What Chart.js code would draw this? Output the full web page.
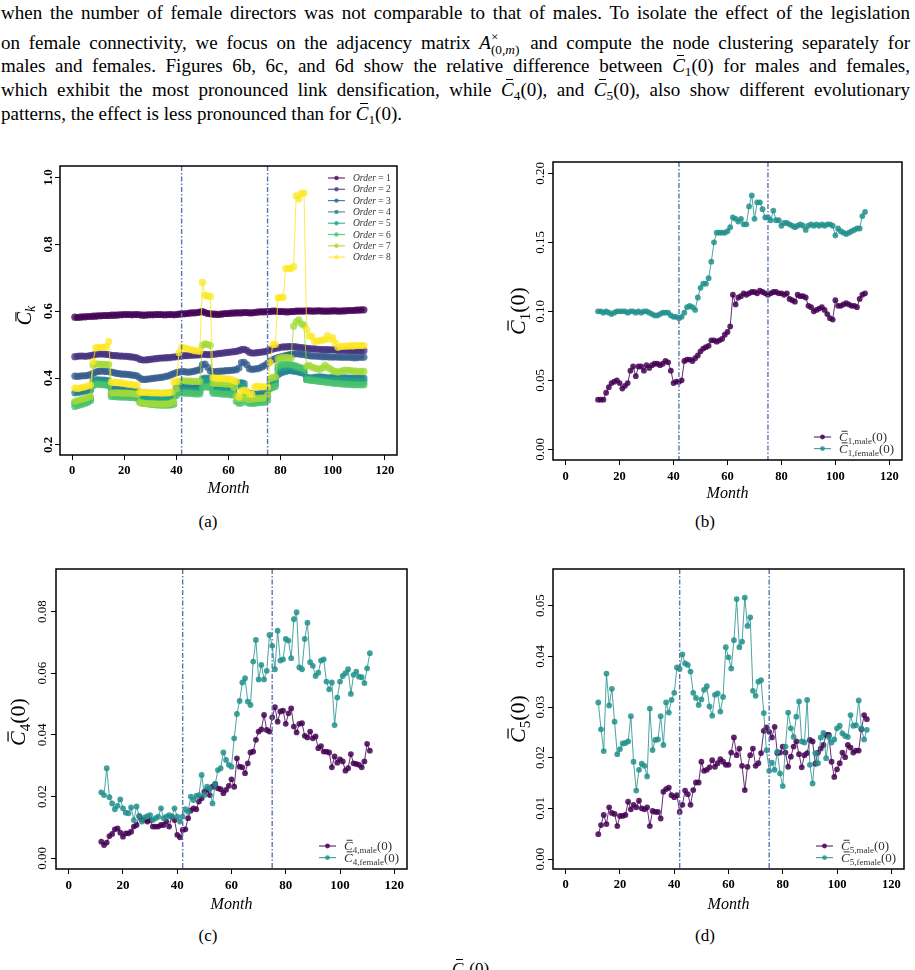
<!DOCTYPE html>
<html lang="en">
<head>
<meta charset="UTF-8">
<title>Node clustering by order and gender</title>
<script src="https://cdn.jsdelivr.net/npm/chart.js"></script>
<style>
  body { margin: 0; width: 915px; height: 970px; position: relative; background: #fff; overflow: hidden;
         font-family: 'Liberation Serif', serif; color: #000; }
  .ln { position: absolute; left: 1px; width: 909px; font-size: 19px; line-height: 20px;
        text-align: justify; text-align-last: justify; }
  .ln.last { text-align-last: left; }
  .cb { font-style: italic; position: relative; }
  .cb::before { content: ''; position: absolute; left: 0.25em; right: 0.02em; top: 0.02em; border-top: 1px solid #000; }
  sub { font-size: 0.7em; vertical-align: -0.3em; line-height: 0; }
  .ss { display: inline-block; vertical-align: -5px; font-size: 0.7em; line-height: 1; margin-right: 2px; }
  .ss span { display: block; }
  .panel { position: absolute; }
  .cap { position: absolute; font-size: 17px; transform: translate(-50%, -50%); }
</style>
</head>
<body>
<div class="ln" style="top:3px">when the number of female directors was not comparable to that of males. To isolate the effect of the legislation</div>
<div class="ln" style="top:30px">on female connectivity, we focus on the adjacency matrix <i>A</i><span class="ss"><span>×</span><span>(0,<i>m</i>)</span></span> and compute the node clustering separately for</div>
<div class="ln" style="top:56px">males and females. Figures 6b, 6c, and 6d show the relative difference between <span class="cb">C</span><sub>1</sub>(0) for males and females,</div>
<div class="ln" style="top:80px">which exhibit the most pronounced link densification, while <span class="cb">C</span><sub>4</sub>(0), and <span class="cb">C</span><sub>5</sub>(0), also show different evolutionary</div>
<div class="ln last" style="top:104px">patterns, the effect is less pronounced than for <span class="cb">C</span><sub>1</sub>(0).</div>

<div class="cap" style="left:208px; top:522px">(a)</div>
<div class="cap" style="left:705px; top:522px">(b)</div>
<div class="cap" style="left:208px; top:936px">(c)</div>
<div class="cap" style="left:705px; top:936px">(d)</div>
<div style="position:absolute; left:452px; top:959px; font-size:17px; line-height:20px"><span class="cb">C</span><sub>1</sub>(0)</div>

<script>
// ---- data ----
const xTicks = [0, 20, 40, 60, 80, 100, 120];
const eventMonths = [42, 75];

const monthsA = [1,2,3,4,5,6,7,8,9,10,11,12,13,14,15,16,17,18,19,20,21,22,23,24,25,26,27,28,29,30,
  31,32,33,34,35,36,37,38,39,40,41,42,43,44,45,46,47,48,49,50,51,52,53,54,55,56,57,58,59,60,
  61,62,63,64,65,66,67,68,69,70,71,72,73,74,75,76,77,78,79,80,81,82,83,84,85,86,87,88,89,90,
  91,92,93,94,95,96,97,98,99,100,101,102,103,104,105,106,107,108,109,110,111,112];
const monthsB = [12,13,14,15,16,17,18,19,20,21,22,23,24,25,26,27,28,29,30,31,32,33,34,35,36,37,38,39,40,41,
  42,43,44,45,46,47,48,49,50,51,52,53,54,55,56,57,58,59,60,61,62,63,64,65,66,67,68,69,70,71,
  72,73,74,75,76,77,78,79,80,81,82,83,84,85,86,87,88,89,90,91,92,93,94,95,96,97,98,99,100,101,
  102,103,104,105,106,107,108,109,110,111];

// (a) mean clustering per order
const order1 = [0.582,0.581,0.582,0.583,0.583,0.584,0.584,0.585,0.585,0.586,
  0.586,0.587,0.587,0.587,0.588,0.588,0.588,0.589,0.589,0.590,
  0.590,0.590,0.589,0.590,0.590,0.589,0.588,0.588,0.589,0.589,
  0.589,0.590,0.590,0.590,0.589,0.589,0.590,0.590,0.589,0.590,
  0.591,0.592,0.592,0.593,0.594,0.595,0.595,0.596,0.597,0.599,
  0.596,0.593,0.592,0.591,0.591,0.590,0.591,0.592,0.593,0.593,
  0.594,0.594,0.595,0.595,0.595,0.596,0.596,0.595,0.595,0.596,
  0.597,0.598,0.598,0.598,0.599,0.599,0.600,0.600,0.599,0.599,
  0.599,0.598,0.598,0.599,0.599,0.600,0.600,0.600,0.600,0.601,
  0.601,0.600,0.600,0.601,0.601,0.600,0.600,0.600,0.600,0.601,
  0.601,0.600,0.600,0.601,0.601,0.602,0.602,0.602,0.603,0.603,0.604,0.604];
const order2 = [0.464,0.465,0.466,0.466,0.465,0.466,0.467,0.469,0.471,0.472,
  0.472,0.472,0.471,0.470,0.468,0.467,0.467,0.466,0.466,0.465,
  0.465,0.464,0.463,0.462,0.460,0.456,0.454,0.454,0.455,0.456,
  0.457,0.458,0.459,0.460,0.460,0.461,0.461,0.462,0.463,0.464,
  0.465,0.466,0.467,0.467,0.468,0.468,0.469,0.469,0.470,0.471,
  0.471,0.470,0.470,0.471,0.472,0.473,0.474,0.475,0.476,0.477,
  0.478,0.479,0.480,0.482,0.485,0.486,0.483,0.477,0.475,0.475,
  0.476,0.477,0.478,0.479,0.481,0.484,0.487,0.489,0.490,0.492,
  0.493,0.493,0.494,0.494,0.494,0.493,0.492,0.491,0.490,0.489,
  0.488,0.487,0.487,0.486,0.486,0.485,0.485,0.485,0.484,0.484,
  0.484,0.483,0.483,0.483,0.483,0.482,0.482,0.482,0.482,0.482,0.482,0.482];
const order3 = [0.406,0.405,0.406,0.407,0.407,0.408,0.410,0.414,0.418,0.420,
  0.421,0.421,0.420,0.419,0.418,0.416,0.414,0.413,0.412,0.412,
  0.411,0.410,0.409,0.408,0.406,0.400,0.396,0.396,0.397,0.398,
  0.399,0.400,0.401,0.402,0.403,0.405,0.407,0.410,0.413,0.416,
  0.418,0.419,0.419,0.418,0.418,0.419,0.421,0.423,0.425,0.440,
  0.442,0.432,0.421,0.419,0.419,0.420,0.421,0.421,0.422,0.422,
  0.423,0.424,0.425,0.430,0.446,0.447,0.440,0.428,0.426,0.427,
  0.428,0.430,0.434,0.438,0.444,0.450,0.455,0.458,0.461,0.463,
  0.465,0.467,0.469,0.471,0.472,0.473,0.472,0.471,0.470,0.468,
  0.467,0.466,0.466,0.465,0.465,0.464,0.464,0.464,0.463,0.463,
  0.463,0.463,0.462,0.462,0.462,0.462,0.462,0.461,0.461,0.462,0.462,0.462];
const order4 = [0.356,0.357,0.358,0.360,0.361,0.362,0.364,0.392,0.395,0.395,
  0.394,0.394,0.393,0.392,0.368,0.367,0.366,0.366,0.365,0.365,
  0.365,0.364,0.364,0.363,0.362,0.356,0.355,0.355,0.354,0.354,
  0.354,0.353,0.353,0.353,0.353,0.354,0.354,0.355,0.358,0.372,
  0.378,0.378,0.377,0.377,0.376,0.376,0.375,0.375,0.375,0.398,
  0.400,0.399,0.398,0.372,0.372,0.371,0.371,0.370,0.370,0.369,
  0.368,0.368,0.384,0.386,0.386,0.384,0.356,0.354,0.353,0.352,
  0.352,0.353,0.354,0.356,0.362,0.388,0.392,0.394,0.410,0.415,
  0.418,0.420,0.422,0.422,0.421,0.420,0.418,0.416,0.414,0.402,
  0.401,0.401,0.402,0.403,0.404,0.403,0.402,0.401,0.401,0.402,
  0.401,0.400,0.400,0.401,0.401,0.400,0.400,0.400,0.401,0.401,0.400,0.400];
const order5 = [0.325,0.327,0.329,0.331,0.333,0.335,0.338,0.383,0.387,0.387,
  0.386,0.386,0.385,0.384,0.352,0.352,0.351,0.351,0.350,0.350,
  0.350,0.349,0.349,0.348,0.347,0.344,0.343,0.343,0.342,0.342,
  0.342,0.341,0.341,0.341,0.341,0.342,0.342,0.343,0.345,0.358,
  0.363,0.363,0.362,0.362,0.361,0.361,0.360,0.360,0.360,0.388,
  0.392,0.390,0.389,0.362,0.361,0.361,0.360,0.360,0.359,0.358,
  0.357,0.357,0.374,0.376,0.376,0.374,0.338,0.336,0.335,0.334,
  0.334,0.335,0.336,0.338,0.345,0.378,0.382,0.384,0.425,0.430,
  0.432,0.434,0.435,0.434,0.432,0.430,0.428,0.425,0.422,0.396,
  0.397,0.398,0.398,0.397,0.396,0.395,0.395,0.394,0.394,0.393,
  0.393,0.393,0.392,0.392,0.392,0.391,0.391,0.391,0.390,0.390,0.390,0.390];
const order6 = [0.315,0.318,0.320,0.322,0.325,0.328,0.332,0.377,0.381,0.381,
  0.380,0.380,0.379,0.378,0.345,0.345,0.344,0.344,0.343,0.343,
  0.343,0.342,0.342,0.341,0.340,0.327,0.325,0.324,0.323,0.322,
  0.321,0.320,0.320,0.319,0.319,0.319,0.319,0.320,0.322,0.348,
  0.356,0.356,0.355,0.355,0.354,0.354,0.353,0.353,0.353,0.372,
  0.374,0.373,0.372,0.355,0.354,0.354,0.353,0.352,0.352,0.351,
  0.350,0.350,0.330,0.325,0.326,0.345,0.328,0.325,0.324,0.325,
  0.326,0.327,0.327,0.328,0.333,0.368,0.372,0.375,0.436,0.440,
  0.441,0.442,0.442,0.440,0.438,0.436,0.433,0.430,0.428,0.395,
  0.394,0.393,0.392,0.391,0.390,0.389,0.388,0.387,0.386,0.385,
  0.384,0.384,0.383,0.382,0.382,0.381,0.381,0.380,0.380,0.380,0.380,0.380];
const order7 = [0.330,0.333,0.335,0.337,0.340,0.342,0.345,0.438,0.442,0.442,
  0.441,0.441,0.440,0.440,0.355,0.356,0.356,0.356,0.355,0.355,
  0.355,0.354,0.354,0.353,0.352,0.327,0.325,0.324,0.324,0.323,
  0.323,0.323,0.322,0.322,0.322,0.322,0.323,0.325,0.330,0.368,
  0.388,0.392,0.392,0.391,0.391,0.390,0.390,0.390,0.390,0.498,
  0.502,0.500,0.498,0.385,0.384,0.384,0.383,0.383,0.382,0.382,
  0.381,0.372,0.345,0.338,0.340,0.345,0.338,0.336,0.337,0.338,
  0.339,0.340,0.340,0.341,0.350,0.398,0.402,0.404,0.458,0.460,
  0.462,0.462,0.461,0.460,0.555,0.568,0.574,0.562,0.558,0.435,
  0.438,0.433,0.430,0.428,0.426,0.430,0.438,0.432,0.428,0.422,
  0.420,0.418,0.420,0.422,0.424,0.423,0.422,0.421,0.421,0.420,0.420,0.420];
const order8 = [0.370,0.369,0.370,0.372,0.374,0.376,0.379,0.449,0.490,0.492,
  0.492,0.492,0.493,0.509,0.388,0.388,0.387,0.386,0.385,0.384,
  0.382,0.381,0.380,0.379,0.378,0.358,0.357,0.357,0.357,0.356,
  0.356,0.356,0.356,0.355,0.355,0.356,0.356,0.357,0.388,0.390,
  0.476,0.492,0.490,0.488,0.486,0.484,0.482,0.481,0.480,0.686,
  0.647,0.645,0.644,0.401,0.400,0.399,0.399,0.398,0.398,0.397,
  0.396,0.392,0.390,0.344,0.362,0.364,0.362,0.352,0.351,0.374,
  0.375,0.375,0.374,0.374,0.373,0.446,0.500,0.501,0.640,0.641,
  0.641,0.727,0.727,0.728,0.733,0.945,0.935,0.952,0.953,0.545,
  0.526,0.524,0.510,0.510,0.512,0.513,0.515,0.527,0.516,0.521,
  0.505,0.492,0.494,0.495,0.495,0.496,0.496,0.496,0.497,0.497,0.497,0.497];
const orderSeries = [order1, order2, order3, order4, order5, order6, order7, order8];
const orderNames = ['1', '2', '3', '4', '5', '6', '7', '8'];

// (b) C1(0)
const c1Male = [0.036,0.036,0.036,0.041,0.045,0.048,0.049,0.050,0.048,0.044,
  0.046,0.048,0.057,0.060,0.053,0.060,0.060,0.057,0.061,0.059,
  0.061,0.062,0.062,0.061,0.062,0.064,0.063,0.057,0.048,0.049,
  0.049,0.050,0.064,0.065,0.065,0.064,0.066,0.068,0.071,0.073,
  0.074,0.075,0.079,0.079,0.078,0.079,0.080,0.083,0.085,0.089,
  0.112,0.105,0.110,0.111,0.113,0.112,0.113,0.114,0.114,0.113,
  0.115,0.114,0.113,0.112,0.113,0.114,0.114,0.113,0.113,0.112,
  0.113,0.109,0.108,0.107,0.112,0.111,0.111,0.110,0.104,0.103,
  0.100,0.101,0.102,0.103,0.101,0.098,0.095,0.094,0.108,0.104,
  0.104,0.105,0.106,0.105,0.104,0.104,0.103,0.109,0.112,0.113];
const c1Female = [0.100,0.100,0.099,0.100,0.099,0.098,0.099,0.100,0.100,0.100,
  0.100,0.099,0.100,0.100,0.099,0.100,0.099,0.100,0.100,0.099,
  0.098,0.097,0.097,0.098,0.099,0.099,0.099,0.097,0.096,0.096,
  0.095,0.096,0.099,0.103,0.104,0.103,0.101,0.110,0.117,0.120,
  0.120,0.124,0.136,0.150,0.157,0.157,0.157,0.157,0.158,0.161,
  0.168,0.167,0.165,0.167,0.163,0.163,0.176,0.184,0.167,0.179,
  0.179,0.174,0.168,0.168,0.166,0.173,0.166,0.166,0.162,0.164,
  0.164,0.163,0.162,0.161,0.162,0.163,0.162,0.159,0.162,0.163,
  0.162,0.163,0.162,0.163,0.162,0.163,0.163,0.162,0.155,0.160,
  0.158,0.157,0.156,0.157,0.158,0.159,0.160,0.160,0.169,0.172];

// (c) C4(0)
const c4Male = [0.0054,0.0043,0.0051,0.0072,0.0079,0.0094,0.0097,0.0083,0.0070,0.0081,
  0.0081,0.0086,0.0103,0.0108,0.0137,0.0126,0.0124,0.0119,0.0124,0.0103,
  0.0103,0.0103,0.0108,0.0108,0.0119,0.0103,0.0135,0.0124,0.0076,0.0068,
  0.0092,0.0094,0.0130,0.0155,0.0162,0.0159,0.0184,0.0195,0.0216,0.0222,
  0.0205,0.0232,0.0241,0.0227,0.0224,0.0211,0.0222,0.0235,0.0256,0.0232,
  0.0324,0.0297,0.0295,0.0276,0.0308,0.0343,0.0346,0.0384,0.0411,0.0418,
  0.0465,0.0416,0.0411,0.0457,0.0490,0.0443,0.0476,0.0479,0.0436,0.0470,
  0.0486,0.0427,0.0408,0.0436,0.0438,0.0397,0.0392,0.0411,0.0389,0.0395,
  0.0357,0.0364,0.0346,0.0346,0.0343,0.0295,0.0330,0.0310,0.0321,0.0314,
  0.0284,0.0292,0.0338,0.0308,0.0306,0.0303,0.0295,0.0314,0.0371,0.0349];
const c4Female = [0.0214,0.0205,0.0292,0.0198,0.0178,0.0159,0.0170,0.0191,0.0162,0.0148,
  0.0146,0.0165,0.0124,0.0168,0.0137,0.0119,0.0133,0.0137,0.0140,0.0124,
  0.0130,0.0135,0.0162,0.0130,0.0135,0.0140,0.0135,0.0162,0.0135,0.0119,
  0.0135,0.0159,0.0151,0.0200,0.0189,0.0202,0.0205,0.0270,0.0205,0.0232,
  0.0227,0.0178,0.0241,0.0286,0.0292,0.0343,0.0319,0.0303,0.0297,0.0389,
  0.0468,0.0510,0.0570,0.0584,0.0508,0.0497,0.0638,0.0708,0.0580,0.0627,
  0.0580,0.0608,0.0724,0.0689,0.0613,0.0738,0.0641,0.0645,0.0711,0.0706,
  0.0649,0.0775,0.0798,0.0619,0.0613,0.0711,0.0764,0.0636,0.0624,0.0591,
  0.0602,0.0641,0.0645,0.0573,0.0548,0.0570,0.0432,0.0521,0.0573,0.0591,
  0.0600,0.0613,0.0533,0.0595,0.0605,0.0589,0.0587,0.0568,0.0616,0.0665];

// (d) C5(0)
const c5Male = [0.0049,0.0067,0.0087,0.0069,0.0102,0.0091,0.0089,0.0065,0.0085,0.0085,
  0.0087,0.0113,0.0098,0.0107,0.0102,0.0115,0.0100,0.0098,0.0102,0.0065,
  0.0095,0.0093,0.0093,0.0080,0.0133,0.0138,0.0141,0.0126,0.0122,0.0126,
  0.0093,0.0107,0.0135,0.0128,0.0107,0.0136,0.0151,0.0151,0.0192,0.0174,
  0.0176,0.0181,0.0195,0.0182,0.0189,0.0197,0.0192,0.0186,0.0186,0.0210,
  0.0240,0.0205,0.0218,0.0184,0.0136,0.0182,0.0205,0.0218,0.0184,0.0189,
  0.0209,0.0253,0.0260,0.0251,0.0240,0.0261,0.0209,0.0210,0.0222,0.0210,
  0.0182,0.0202,0.0222,0.0232,0.0207,0.0181,0.0205,0.0209,0.0235,0.0232,
  0.0188,0.0210,0.0218,0.0225,0.0245,0.0245,0.0192,0.0162,0.0177,0.0189,
  0.0210,0.0201,0.0225,0.0220,0.0210,0.0214,0.0214,0.0256,0.0284,0.0276];
const c5Female = [0.0309,0.0256,0.0213,0.0366,0.0303,0.0336,0.0271,0.0207,0.0217,0.0228,
  0.0229,0.0232,0.0282,0.0192,0.0135,0.0176,0.0188,0.0184,0.0163,0.0297,
  0.0215,0.0235,0.0236,0.0282,0.0225,0.0309,0.0289,0.0314,0.0328,0.0378,
  0.0375,0.0404,0.0386,0.0383,0.0370,0.0328,0.0318,0.0304,0.0315,0.0334,
  0.0341,0.0301,0.0283,0.0324,0.0327,0.0291,0.0320,0.0418,0.0398,0.0376,
  0.0432,0.0513,0.0418,0.0429,0.0516,0.0460,0.0477,0.0332,0.0322,0.0350,
  0.0353,0.0288,0.0215,0.0174,0.0190,0.0176,0.0212,0.0169,0.0144,0.0222,
  0.0289,0.0258,0.0241,0.0281,0.0311,0.0232,0.0230,0.0314,0.0186,0.0149,
  0.0209,0.0189,0.0240,0.0249,0.0199,0.0241,0.0230,0.0236,0.0258,0.0263,
  0.0248,0.0243,0.0241,0.0284,0.0263,0.0264,0.0313,0.0258,0.0236,0.0255];

const yTicksA = [0.2, 0.4, 0.6, 0.8, 1.0];
const yTicksB = [0, 0.05, 0.10, 0.15, 0.20];
const yTicksC = [0, 0.02, 0.04, 0.06, 0.08];
const yTicksD = [0, 0.01, 0.02, 0.03, 0.04, 0.05];

// ---- styling ----
const viridis = ['#440154', '#46327e', '#365c8d', '#277f8e', '#1fa187', '#4ac16d', '#a0da39', '#fde725'];
const maleColor = '#440154';
const femaleColor = '#21918c';
const serif = '"Liberation Serif", serif';

function pts(months, vals) {
  return months.map((m, i) => ({ x: m, y: vals[i] }));
}

// label pieces: [text, size, italic, raise, bar]
function cLabel(sub, size, subSize) {
  return [['C', size, true, 0, true], [sub, subSize, false, -size * 0.22], ['(0)', size, false, 0]];
}

function measure(ctx, runs) {
  let w = 0;
  runs.forEach(r => {
    ctx.font = (r[2] ? 'italic ' : '') + r[1] + 'px ' + serif;
    r.w = ctx.measureText(r[0]).width;
    w += r.w;
  });
  return w;
}

function drawRuns(ctx, runs, x, yMid) {
  const base = yMid + runs[0][1] * 0.32;
  let cx = x;
  runs.forEach(r => {
    ctx.font = (r[2] ? 'italic ' : '') + r[1] + 'px ' + serif;
    ctx.fillText(r[0], cx, base - (r[3] || 0));
    if (r[4]) {
      const by = base - r[1] * 0.8;
      ctx.fillRect(cx + r.w * 0.3, by, r.w * 0.68, Math.max(1, r[1] * 0.055));
    }
    cx += r.w;
  });
}

const decor = {
  id: 'decor',
  afterDatasetsDraw(chart) {
    const { ctx, chartArea: a, scales: { x } } = chart;
    ctx.save();
    ctx.strokeStyle = '#5877b0';
    ctx.lineWidth = 1.4;
    ctx.setLineDash([5, 2, 1.5, 2]);
    eventMonths.forEach(m => {
      const px = x.getPixelForValue(m);
      ctx.beginPath();
      ctx.moveTo(px, a.top);
      ctx.lineTo(px, a.bottom);
      ctx.stroke();
    });
    ctx.setLineDash([]);
    ctx.strokeStyle = '#000';
    ctx.lineWidth = 1.5;
    ctx.strokeRect(a.left, a.top, a.right - a.left, a.bottom - a.top);
    ctx.restore();
  },
  afterDraw(chart, args, o) {
    const { ctx, chartArea: a } = chart;
    ctx.save();
    ctx.fillStyle = '#000';
    ctx.textBaseline = 'alphabetic';
    ctx.textAlign = 'left';

    // x title
    const xt = [['Month', 16, true, 0]];
    const xw = measure(ctx, xt);
    drawRuns(ctx, xt, (a.left + a.right) / 2 - xw / 2, a.bottom + o.xTitleDy);

    // y title, rotated
    const yt = o.yTitle;
    const yw = measure(ctx, yt);
    ctx.save();
    ctx.translate(a.left + o.yTitleDx, (a.top + a.bottom) / 2 + o.yTitleDy);
    ctx.rotate(-Math.PI / 2);
    drawRuns(ctx, yt, -yw / 2, 0);
    ctx.restore();

    // legend
    const lg = o.legend;
    chart.data.datasets.forEach((ds, i) => {
      const y = (lg.fromBottom ? a.bottom : a.top) + lg.y0 + i * lg.dy;
      const x0 = a.right + lg.x0, x1 = a.right + lg.x1;
      ctx.strokeStyle = ds.borderColor;
      ctx.lineWidth = 1.2;
      ctx.beginPath();
      ctx.moveTo(x0, y);
      ctx.lineTo(x1, y);
      ctx.stroke();
      ctx.fillStyle = ds.backgroundColor;
      ctx.beginPath();
      ctx.arc((x0 + x1) / 2, y, lg.r, 0, Math.PI * 2);
      ctx.fill();
      ctx.fillStyle = '#333';
      const runs = ds.mathLabel;
      measure(ctx, runs);
      drawRuns(ctx, runs, a.right + lg.tx, y);
    });
    ctx.restore();
  }
};

function buildPanel(p) {
  const [L, T, R, B] = p.area;
  const padT = 12, padR = 14, yW = 60, xH = 50;
  const wrap = document.createElement('div');
  wrap.className = 'panel';
  wrap.style.left = (L - yW) + 'px';
  wrap.style.top = (T - padT) + 'px';
  wrap.style.width = (R - L + yW + padR) + 'px';
  wrap.style.height = (B - T + padT + xH) + 'px';
  const cv = document.createElement('canvas');
  wrap.appendChild(cv);
  document.body.appendChild(wrap);

  new Chart(cv, {
    type: 'line',
    data: { datasets: p.datasets },
    options: {
      responsive: true,
      maintainAspectRatio: false,
      animation: false,
      events: [],
      layout: { padding: { top: padT, right: padR, left: 0, bottom: 0 } },
      plugins: { legend: { display: false }, tooltip: { enabled: false }, decor: p.decor },
      scales: {
        x: {
          type: 'linear', min: -4.7, max: 124.7,
          afterBuildTicks: ax => { ax.ticks = xTicks.map(v => ({ value: v })); },
          afterFit: ax => { ax.height = xH; },
          border: { display: false },
          grid: { display: true, drawOnChartArea: false, drawTicks: true, tickLength: 5, color: '#000', lineWidth: 1 },
          ticks: { color: '#000', padding: p.xPad, maxRotation: 0, autoSkip: false,
                   font: { family: serif, weight: 'bold', size: p.xFont } }
        },
        y: {
          type: 'linear', min: p.yMin, max: p.yMax,
          afterBuildTicks: ax => { ax.ticks = p.yTicks.map(v => ({ value: v })); },
          afterFit: ax => { ax.width = yW; },
          border: { display: false },
          grid: { display: true, drawOnChartArea: false, drawTicks: true, tickLength: 5, color: '#000', lineWidth: 1 },
          ticks: { color: '#000', padding: p.yPad, minRotation: 90, maxRotation: 90, crossAlign: 'center', autoSkip: false,
                   callback: v => Number(v).toFixed(p.digits),
                   font: { family: serif, weight: p.yBold ? 'bold' : 'normal', size: 13 } }
        }
      }
    },
    plugins: [decor]
  });
}

function genderSets(months, male, female, maleSub, femaleSub) {
  const mk = (vals, col, sub, ord) => ({
    data: pts(months, vals),
    borderColor: col + 'd0',
    backgroundColor: col + 'd9',
    borderWidth: 1,
    pointRadius: 2.9,
    pointBorderWidth: 0,
    tension: 0,
    order: ord,
    mathLabel: cLabel(sub, 13, 9)
  });
  return [mk(male, maleColor, maleSub, 1), mk(female, femaleColor, femaleSub, 0)];
}

const genderLegend = { fromBottom: true, y0: -23, dy: 11.6, x0: -88, x1: -71, tx: -63, r: 2.4 };

buildPanel({
  area: [60, 166, 397, 455],
  yMin: 0.17, yMax: 1.034, yTicks: yTicksA, digits: 1, yBold: true, yPad: -1.5, xPad: 3, xFont: 12.5,
  datasets: orderSeries.map((vals, i) => ({
    data: pts(monthsA, vals),
    borderColor: viridis[i] + 'd0',
    backgroundColor: viridis[i] + 'c4',
    borderWidth: 1,
    pointRadius: 3.6,
    pointBorderWidth: 0,
    tension: 0,
    order: orderSeries.length - i,
    mathLabel: [['Order', 9.5, true, 0], [' = ' + orderNames[i], 9.5, false, 0]]
  })),
  decor: {
    xTitleDy: 33, yTitleDx: -35, yTitleDy: 5,
    yTitle: [['C', 20, true, 0, true], ['k', 14, true, -4]],
    legend: { fromBottom: false, y0: 12, dy: 11.3, x0: -69, x1: -52, tx: -44, r: 2.2 }
  }
});

buildPanel({
  area: [553, 162, 902, 460],
  yMin: -0.00775, yMax: 0.2082, yTicks: yTicksB, digits: 2, yBold: false, yPad: -4.4, xPad: 4, xFont: 12.5,
  datasets: genderSets(monthsB, c1Male, c1Female, '1,male', '1,female'),
  decor: { xTitleDy: 33, yTitleDx: -35, yTitleDy: 0, yTitle: cLabel('1', 22, 15), legend: genderLegend }
});

buildPanel({
  area: [56, 569, 407, 869],
  yMin: -0.00347, yMax: 0.0938, yTicks: yTicksC, digits: 2, yBold: false, yPad: -3.4, xPad: 4, xFont: 13,
  datasets: genderSets(monthsB, c4Male, c4Female, '4,male', '4,female'),
  decor: { xTitleDy: 35, yTitleDx: -38, yTitleDy: 3, yTitle: cLabel('4', 22, 15), legend: genderLegend }
});

buildPanel({
  area: [553, 569, 904, 869],
  yMin: -0.00197, yMax: 0.05724, yTicks: yTicksD, digits: 2, yBold: false, yPad: -4.4, xPad: 3, xFont: 12.5,
  datasets: genderSets(monthsB, c5Male, c5Female, '5,male', '5,female'),
  decor: { xTitleDy: 35, yTitleDx: -35, yTitleDy: 0, yTitle: cLabel('5', 22, 15), legend: genderLegend }
});
</script>
</body>
</html>
